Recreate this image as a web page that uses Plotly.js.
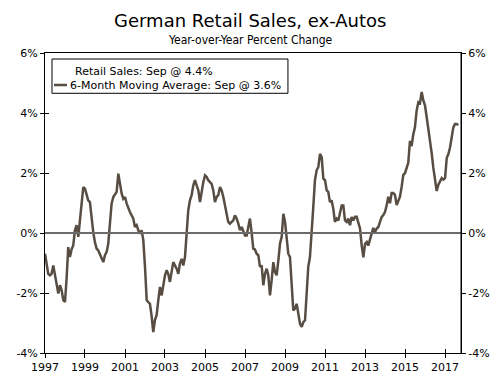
<!DOCTYPE html>
<html><head><meta charset="utf-8">
<script src="https://cdn.plot.ly/plotly-3.0.1.min.js"></script>
<style>html,body{margin:0;padding:0;background:#fff;}#chart{width:500px;height:374px;}</style>
</head><body><div id="chart"></div>
<script>
const startYear = 1997;
const movingAvg = [
-0.69,-1.02,-1.36,-1.41,-1.36,-1.08,-1.36,-1.69,-2.02,-1.74,-1.91,-2.24,
-2.30,-1.47,-0.47,-0.80,-0.55,-0.41,0.09,0.26,-0.13,0.42,0.98,1.53,
1.48,1.31,1.09,1.03,0.42,0.03,-0.30,-0.52,-0.58,-0.69,-0.86,-0.97,
-0.74,-0.63,-0.36,0.42,0.98,1.20,1.31,1.37,1.98,1.59,1.31,1.14,
1.20,0.98,0.81,0.70,0.59,0.48,0.20,0.26,0.09,-0.02,0.09,-0.24,
-1.13,-2.24,-2.30,-2.36,-2.75,-3.30,-2.90,-2.74,-2.24,-1.80,-2.08,-1.69,
-1.41,-1.24,-1.36,-1.63,-1.24,-0.97,-1.08,-1.19,-1.36,-1.02,-0.86,-1.08,
-0.80,-0.02,0.76,1.09,1.26,1.59,1.76,1.59,1.42,1.03,1.42,1.70,
1.92,1.87,1.76,1.70,1.64,1.42,1.03,1.20,1.26,1.53,1.42,1.20,
0.87,0.53,0.37,0.31,0.37,0.42,0.59,0.48,0.31,0.09,0.20,0.03,
-0.08,-0.08,0.20,0.48,0.03,-0.52,-0.55,-0.69,-0.74,-1.13,-1.08,-1.74,
-1.36,-1.19,-1.41,-2.08,-1.58,-0.97,-1.30,-1.41,-0.91,-0.36,-0.13,0.64,
0.37,-0.24,-0.69,-0.80,-1.58,-2.58,-2.52,-2.36,-2.69,-3.02,-3.13,-2.97,
-2.91,-2.02,-1.13,-0.80,-0.13,0.87,1.76,2.09,2.20,2.64,2.53,1.81,
1.76,1.42,1.37,1.03,1.09,0.81,0.37,0.48,0.42,0.70,0.92,0.92,
0.42,0.37,0.48,0.26,0.53,0.42,0.54,0.54,0.37,0.15,-0.42,-0.81,
-0.36,-0.30,-0.42,-0.25,-0.02,0.17,0.03,0.15,0.20,0.37,0.54,0.60,
0.71,0.93,1.21,0.99,1.33,1.33,1.27,0.93,1.10,1.21,1.55,1.94,
2.00,2.22,2.34,3.07,2.90,3.29,3.52,4.08,4.36,4.33,4.70,4.42,
4.25,3.85,3.52,3.12,2.67,2.17,1.78,1.40,1.61,1.72,1.83,1.78,
1.83,2.51,2.62,2.84,3.18,3.52,3.63,3.63,3.60
];
const legendLabels = ["Retail Sales: Sep @ 4.4%", "6-Month Moving Average: Sep @ 3.6%"];
const titleText = "German Retail Sales, ex-Autos";
const subtitleText = "Year-over-Year Percent Change";
const yTicks = [-4,-2,0,2,4,6];
const yTickText = ["-4%","-2%","0%","2%","4%","6%"];

const dates = movingAvg.map((v,i)=>{
  const y = startYear + Math.floor(i/12), m = (i%12)+1;
  return y + "-" + String(m).padStart(2,"0") + "-01";
});

const lineColor = "#574d43";
const font = "DejaVu Sans, Verdana, sans-serif";

const traces = [
  {x: dates, y: movingAvg, type: "scatter", mode: "lines", name: legendLabels[1],
   line: {color: lineColor, width: 2.5}, hoverinfo: "skip", xaxis: "x", yaxis: "y"},
  {x: [dates[0]], y: [null], type:"scatter", mode:"lines", xaxis:"x", yaxis:"y2", showlegend:false, hoverinfo:"skip"},
  {x: [dates[0]], y: [null], type:"scatter", mode:"lines", xaxis:"x2", yaxis:"y3", showlegend:false, hoverinfo:"skip"}
];

const xr = ["1997-01-01","2017-10-19"];
const axisCommon = {showgrid:false, zeroline:false, linecolor:"#000", linewidth:1, tickcolor:"#000", ticklen:4, tickwidth:1};
const layout = {
  width:500, height:374, margin:{l:45, r:39, t:53, b:21},
  paper_bgcolor:"#fff", plot_bgcolor:"#fff", showlegend:false,
  font:{family:font, size:11, color:"#000"},
  xaxis: Object.assign({}, axisCommon, {type:"date", range:xr, tick0:"1997-01-01", dtick:"M24",
    tickformat:"%Y", ticks:"outside", showline:true, mirror:true, tickfont:{size:11, family:font}}),
  xaxis2: Object.assign({}, axisCommon, {type:"date", range:xr, tick0:"1997-01-01", dtick:"M24",
    ticks:"inside", showticklabels:false, overlaying:"x", showline:false}),
  yaxis: Object.assign({}, axisCommon, {range:[-4,6], tickvals:yTicks, ticktext:yTickText, ticks:"outside", showline:true, tickfont:{size:11, family:font}}),
  yaxis2: Object.assign({}, axisCommon, {range:[-4,6], tickvals:yTicks, ticktext:yTickText, ticks:"outside", side:"right", overlaying:"y", showline:true, tickfont:{size:11, family:font}}),
  yaxis3: Object.assign({}, axisCommon, {range:[-4,6], tickvals:yTicks, ticks:"inside", showticklabels:false, overlaying:"y", showline:false}),
  shapes: [
    {type:"line", xref:"paper", yref:"y", x0:0, x1:1, y0:0, y1:0, line:{color:"#6b6b6b", width:2}},
    {type:"line", xref:"paper", yref:"paper", x0:1, x1:1, y0:0, y1:1, line:{color:"#000", width:1}},
    {type:"rect", xref:"paper", yref:"paper", x0:0.0168, x1:0.584, y0:0.8657, y1:0.98, line:{color:"#000", width:1}, fillcolor:"#fff"},
    {type:"line", xref:"paper", yref:"paper", x0:0.0216, x1:0.0529, y0:0.8933, y1:0.8933, line:{color:lineColor, width:2.5}}
  ],
  annotations: [
    {text:titleText, xref:"paper", yref:"paper", x:0.5, y:0, xanchor:"center", yanchor:"middle", showarrow:false, font:{size:18, family:font, color:"#000"}},
    {text:subtitleText, showarrow:false, font:{size:12, family:"DejaVu Sans Condensed, DejaVu Sans, sans-serif", color:"#000"}},
    {text:legendLabels[0], xref:"paper", yref:"paper", x:0.0673, y:0.9377, xanchor:"left", yanchor:"middle", showarrow:false, font:{size:11, family:font}},
    {text:legendLabels[1], xref:"paper", yref:"paper", x:0.0553, y:0.8933, xanchor:"left", yanchor:"middle", showarrow:false, font:{size:11, family:font}}
  ]
};
const py = p => (353 - p)/300, pxp = p => (p - 45)/416;
layout.annotations[0].x = pxp(250); layout.annotations[0].y = py(21);
Object.assign(layout.annotations[1], {xref:"paper", yref:"paper", x:pxp(250), y:py(40), xanchor:"center", yanchor:"middle"});

Plotly.newPlot("chart", traces, layout, {staticPlot:true, displayModeBar:false});
</script></body></html>
